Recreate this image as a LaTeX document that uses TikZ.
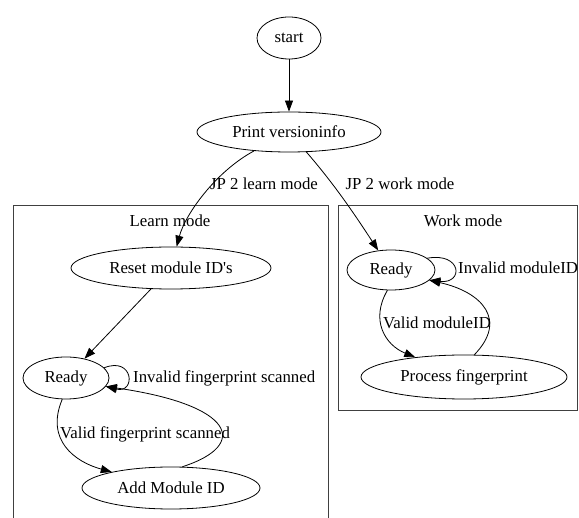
\documentclass[tikz,border=0pt]{standalone}
\usepackage{fontspec}
\setmainfont{Liberation Serif}[Ligatures=TeXOff]
\usetikzlibrary{shapes.geometric,arrows.meta}
\begin{document}
\begin{tikzpicture}[x=1pt,y=-1pt,
  every node/.style={font=\fontsize{16.8}{19}\selectfont},
  st/.style={draw, ellipse, inner sep=0pt, line width=0.8pt},
  arr/.style={draw, line width=0.8pt, -{Triangle[length=11pt,width=8pt]}},
  cl/.style={draw, line width=0.9pt, black!75},
  lbl/.style={inner sep=0pt}]
\useasboundingbox (0,0) rectangle (579,518);
\clip (0,0) rectangle (579,518);
% clusters
\draw[cl] (13,205) rectangle (328,540);
\draw[cl] (338,205) rectangle (577,410);
\node[lbl] (lmode) at (170,221) {Learn mode};
\node[lbl] (wmode) at (463,221) {Work mode};
% nodes
\node[st, minimum width=64pt, minimum height=42pt] (start) at (289,38) {start};
\node[st, minimum width=184pt, minimum height=40pt] (pv) at (289,132) {Print versioninfo};
\node[st, minimum width=200pt, minimum height=42pt] (reset) at (171,268) {Reset module ID's};
\node[st, minimum width=86pt, minimum height=42pt] (rl) at (66,378) {Ready};
\node[st, minimum width=178pt, minimum height=42pt] (add) at (171,488) {Add Module ID};
\node[st, minimum width=88pt, minimum height=40pt] (rw) at (391,270) {Ready};
\node[st, minimum width=206pt, minimum height=44pt] (proc) at (464,377) {Process fingerprint};
% labels
\node[lbl] (l1) at (264,184) {JP 2 learn mode};
\node[lbl] (l2) at (400,184) {JP 2 work mode};
\node[lbl, anchor=west] (l3) at (133,378) {Invalid fingerprint scanned};
\node[lbl] (l4) at (145,434) {Valid fingerprint scanned};
\node[lbl, anchor=west] (l5) at (458,268) {Invalid moduleID};
\node[lbl] (l6) at (437,323) {Valid moduleID};
% edges
\draw[arr] (start) -- (pv);
\draw[arr] (pv) .. controls (215,172) and (185,215) .. (reset);
\draw[arr] (pv) .. controls (335,185) and (355,215) .. (rw);
\draw[arr] (reset) -- (rl);
\draw[arr] (rl.15) .. controls (134,356) and (136,394) .. (rl.-12);
\draw[arr] (add.62) .. controls (250,445) and (235,405) .. (rl.-12);
\draw[arr] (rl.-100) .. controls (45,440) and (75,462) .. (add);
\draw[arr] (rw.18) .. controls (462,252) and (464,284) .. (rw.-15);
\draw[arr] (proc.65) .. controls (508,320) and (482,292) .. (rw.-15);
\draw[arr] (rw.-100) .. controls (370,320) and (385,345) .. (proc);
\end{tikzpicture}
\end{document}
